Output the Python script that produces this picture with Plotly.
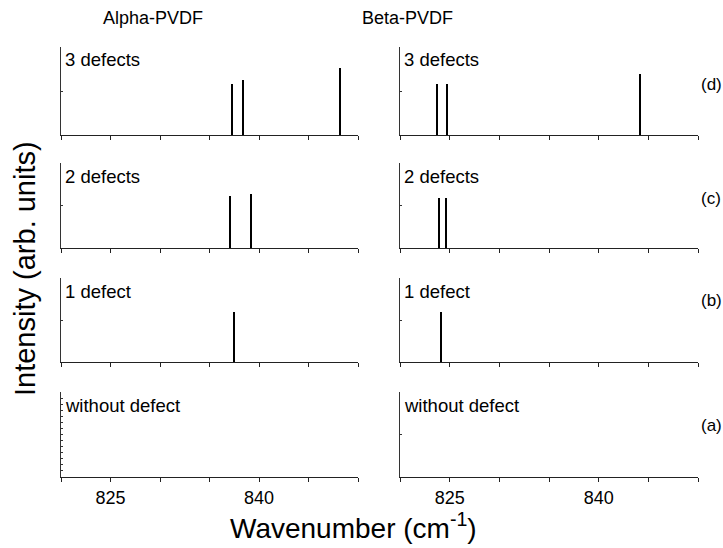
import plotly.graph_objects as go

# ---- data ----
materials = ["Alpha-PVDF", "Beta-PVDF"]
panel_names = ["without defect", "1 defect", "2 defects", "3 defects"]
panel_tags = ["(a)", "(b)", "(c)", "(d)"]

# peak positions (cm^-1) and relative intensities, per material, per panel (a..d)
alpha_pos = [[], [837.5], [837.1, 839.2], [837.3, 838.35, 848.2]]
alpha_int = [[], [0.60], [0.61, 0.64], [0.58, 0.625, 0.765]]
beta_pos = [[], [824.1], [823.9, 824.6], [823.76, 824.76, 844.17]]
beta_int = [[], [0.60], [0.585, 0.585], [0.58, 0.58, 0.69]]

major_ticks = [825, 840]
major_text = ["825", "840"]
minor_ticks = [820, 830, 835, 845, 850]
x_range = [820, 850]

FONT = "Liberation Sans, Arial, sans-serif"
W, H = 723, 548

# ---- layout geometry (pixels) ----
col_px = [(61, 358), (400, 698)]
row_px = [(392, 477), (278, 362), (163, 248), (47, 135)]  # (top, bottom) for a, b, c, d


def px_x(p):
    return p / W


def px_y(p):
    return 1 - p / H


fig = go.Figure()
layout = dict(
    width=W, height=H, margin=dict(l=0, r=0, t=0, b=0),
    paper_bgcolor="white", plot_bgcolor="white", showlegend=False,
    font=dict(family=FONT, color="black"),
    bargap=0,
)
annotations = []

data = [(alpha_pos, alpha_int), (beta_pos, beta_int)]
idx = 0
for c in range(2):
    pos_list, int_list = data[c]
    for r in range(4):
        idx += 1
        xa = "x" if idx == 1 else f"x{idx}"
        ya = "y" if idx == 1 else f"y{idx}"
        xk = "xaxis" if idx == 1 else f"xaxis{idx}"
        yk = "yaxis" if idx == 1 else f"yaxis{idx}"
        fig.add_trace(go.Bar(
            x=pos_list[r], y=int_list[r], width=0.23,
            marker=dict(color="black", line=dict(width=0)),
            xaxis=xa, yaxis=ya, hoverinfo="skip",
        ))
        top, bot = row_px[r]
        x0, x1 = col_px[c]
        layout[xk] = dict(
            domain=[px_x(x0), px_x(x1)], range=x_range, anchor=ya,
            showline=True, linecolor="#222", linewidth=1,
            ticks="outside", ticklen=4, tickcolor="#222", tickwidth=1,
            tickvals=major_ticks, ticktext=major_text,
            minor=dict(tickvals=minor_ticks, ticks="outside", ticklen=4,
                       tickcolor="#222", tickwidth=1, showgrid=False),
            showticklabels=(r == 0),
            tickfont=dict(size=18, family=FONT, color="black"),
            showgrid=False, zeroline=False, fixedrange=True,
        )
        if c == 0 and r == 0:
            yt = [i / 14 for i in range(1, 14)]
        else:
            yt = [0.5]
        layout[yk] = dict(
            domain=[px_y(bot), px_y(top)], range=[0, 1], anchor=xa,
            showline=True, linecolor="#333", linewidth=1,
            ticks="inside", ticklen=2, tickcolor="#333", tickwidth=1,
            tickvals=yt, showticklabels=False,
            showgrid=False, zeroline=False, fixedrange=True,
        )
        # panel label text
        annotations.append(dict(
            x=px_x(x0 + 2), y=px_y(top + 13), xref="paper", yref="paper",
            text=panel_names[r], showarrow=False, xanchor="left", yanchor="middle",
            font=dict(size=18.5, family=FONT, color="black"),
        ))

# tags (a)-(d)
tag_y = [425, 300, 198, 84]
for r in range(4):
    annotations.append(dict(
        x=px_x(699), y=px_y(tag_y[r]), xref="paper", yref="paper",
        text=panel_tags[r], showarrow=False, xanchor="left", yanchor="middle",
        font=dict(size=17, family=FONT, color="black"),
    ))

# column titles
title_x = [153, 407]
for c in range(2):
    annotations.append(dict(
        x=px_x(title_x[c]), y=px_y(18), xref="paper", yref="paper",
        text=materials[c], showarrow=False, xanchor="center", yanchor="middle",
        font=dict(size=18, family=FONT, color="black"),
    ))

# axis titles
annotations.append(dict(
    x=px_x(353), y=px_y(526), xref="paper", yref="paper",
    text="Wavenumber (cm<sup>-1</sup>)", showarrow=False,
    xanchor="center", yanchor="middle",
    font=dict(size=28, family=FONT, color="black"),
))
annotations.append(dict(
    x=px_x(25), y=px_y(269), xref="paper", yref="paper",
    text="Intensity (arb. units)", showarrow=False, textangle=-90,
    xanchor="center", yanchor="middle",
    font=dict(size=29, family=FONT, color="black"),
))

layout["annotations"] = annotations
fig.update_layout(**layout)
fig.write_html("out.html")
